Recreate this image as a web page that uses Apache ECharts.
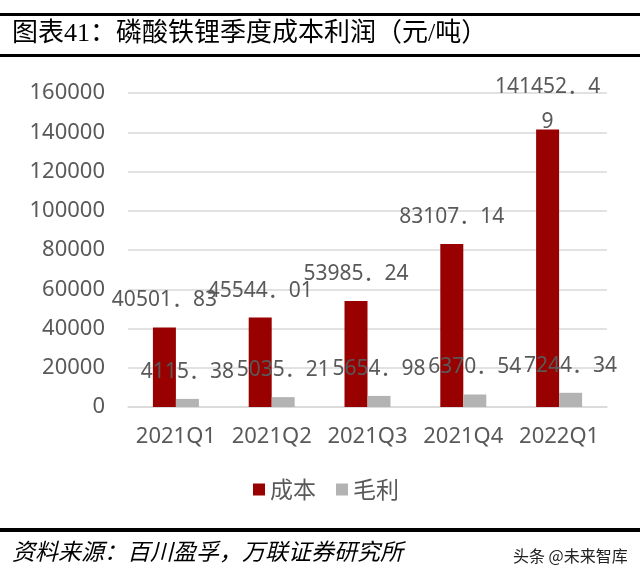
<!DOCTYPE html>
<html>
<head>
<meta charset="utf-8">
<script src="https://cdn.jsdelivr.net/npm/echarts@6/dist/echarts.min.js"></script>
<style>html,body{margin:0;padding:0;background:#fff}#c{width:640px;height:581px}</style>
</head>
<body>
<div id="c"></div>
<script>
var categories = ['2021Q1', '2021Q2', '2021Q3', '2021Q4', '2022Q1'];
var costValues = [40501.83, 45544.01, 53985.24, 83107.14, 141452.49];
var profitValues = [4115.38, 5035.21, 5654.98, 6370.54, 7244.34];
var seriesNames = ['成本', '毛利'];
var yTicks = { min: 0, max: 160000, interval: 20000 };
var titleText = '图表41：磷酸铁锂季度成本利润（元/吨）';
var sourceText = '资料来源：百川盈孚，万联证券研究所';
var watermarkText = '头条 @未来智库';

function fmt(v) { return v.toFixed(2).replace('.', '．'); }

var labelBase = {
  show: true, position: 'top', distance: 16, color: '#595959',
  fontSize: 21, lineHeight: 22, fontFamily: "'Noto Sans', 'Noto Sans CJK SC', sans-serif"
};

var costData = costValues.map(function (v, i) {
  if (i === costValues.length - 1) {
    return { value: v, label: { lineHeight: 35, distance: -10,
      formatter: function (p) { var s = fmt(p.value); return s.slice(0, -1) + '\n' + s.slice(-1); } } };
  }
  return v;
});

var chart = echarts.init(document.getElementById('c'));
chart.setOption({
  animation: false,
  backgroundColor: '#fff',
  title: {
    text: titleText, left: 12, top: 21, padding: 0,
    textStyle: { fontSize: 26, fontWeight: 'normal', color: '#000',
      fontFamily: "'Liberation Serif', 'Noto Sans CJK SC', serif" }
  },
  grid: { left: 128, right: 33, top: 93, bottom: 174 },
  legend: {
    data: seriesNames, left: 248, top: 473, itemWidth: 12, itemHeight: 12, itemGap: 20,
    icon: 'rect',
    textStyle: { fontSize: 23, color: '#595959', fontFamily: "'Noto Sans CJK SC', sans-serif" }
  },
  xAxis: {
    type: 'category', data: categories,
    axisLine: { lineStyle: { color: '#d9d9d9', width: 1.5 } },
    axisTick: { show: false },
    axisLabel: { color: '#595959', fontSize: 22, margin: 19, interval: 0, fontFamily: "'Noto Sans', sans-serif" }
  },
  yAxis: {
    type: 'value', min: yTicks.min, max: yTicks.max, interval: yTicks.interval,
    axisLine: { show: false }, axisTick: { show: false },
    splitLine: { lineStyle: { color: '#d9d9d9', width: 1.5 } },
    axisLabel: { color: '#595959', fontSize: 22, margin: 23, fontFamily: "'Noto Sans', sans-serif",
      formatter: function (v) { return String(v); } }
  },
  series: [
    { name: seriesNames[0], type: 'bar', data: costData, barWidth: '24%', barGap: '0%',
      itemStyle: { color: '#990000' },
      label: Object.assign({}, labelBase, { formatter: function (p) { return fmt(p.value); } }) },
    { name: seriesNames[1], type: 'bar', data: profitValues, barWidth: '24%',
      itemStyle: { color: '#b3b3b3' },
      label: Object.assign({}, labelBase, { formatter: function (p) { return fmt(p.value); } }) }
  ],
  graphic: [
    { type: 'rect', shape: { x: 0, y: 13, width: 640, height: 3 }, style: { fill: '#000' } },
    { type: 'rect', shape: { x: 0, y: 54, width: 640, height: 3 }, style: { fill: '#000' } },
    { type: 'rect', shape: { x: 0, y: 528, width: 640, height: 4 }, style: { fill: '#000' } },
    { type: 'text', left: 12, top: 540, style: { text: sourceText, fontSize: 23, fontStyle: 'italic',
      fill: '#000', fontFamily: "'Noto Sans CJK SC', sans-serif" } },
    { type: 'text', left: 513, top: 548, style: { text: watermarkText, fontSize: 16,
      fill: '#222', fontFamily: "'Noto Sans CJK SC', sans-serif" } }
  ]
});
</script>
</body>
</html>
